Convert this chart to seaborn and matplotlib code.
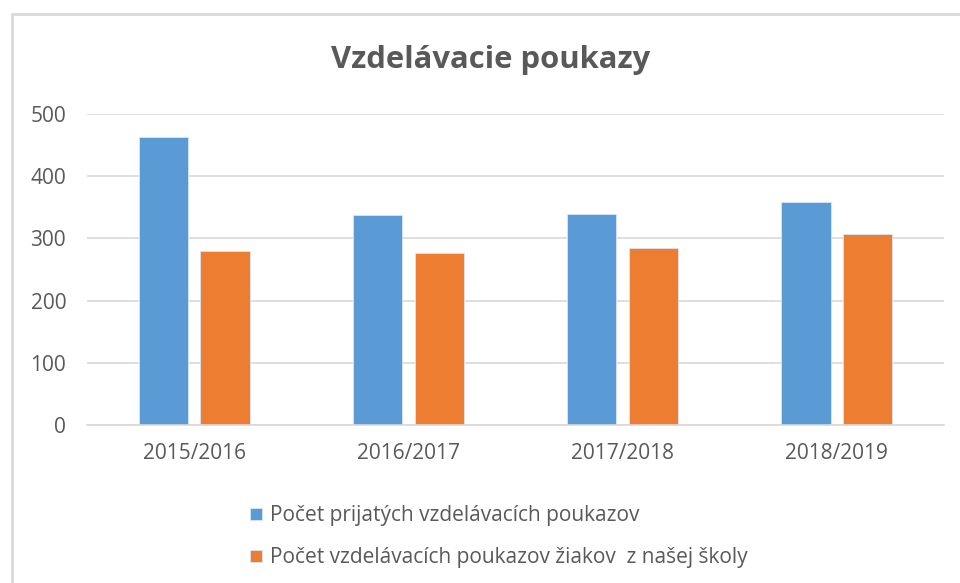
import matplotlib
matplotlib.use("Agg")
import matplotlib.pyplot as plt
import seaborn as sns
import pandas as pd
from matplotlib.patches import Rectangle

categories = ["2015/2016", "2016/2017", "2017/2018", "2018/2019"]
series_names = ["Počet prijatých vzdelávacích poukazov",
                "Počet vzdelávacích poukazov žiakov  z našej školy"]
accepted = [462, 337, 339, 359]
our_school = [279, 276, 284, 307]
y_ticks = [0, 100, 200, 300, 400, 500]
title = "Vzdelávacie poukazy"

df = pd.DataFrame({
    "rok": categories * 2,
    "séria": [series_names[0]] * 4 + [series_names[1]] * 4,
    "hodnota": accepted + our_school,
})

sns.set_theme(style="white")
plt.rcParams["font.family"] = ["Open Sans", "DejaVu Sans"]
gray = "#595959"

fig = plt.figure(figsize=(9.6, 5.83), dpi=100)
fig.patch.set_facecolor("white")
ax = fig.add_axes([87/960, 1-425.3/583, (944-87)/960, (425.3-113.7)/583])

sns.barplot(data=df, x="rok", y="hodnota", hue="séria",
            palette=["#5B9BD5", "#ED7D31"], saturation=1, width=0.575, gap=0.2,
            edgecolor="#d6e6f5", linewidth=0.6, ax=ax, legend=True)

ax.set_ylim(0, 500)
ax.set_xlim(-0.5, 3.5)
ax.set_yticks(y_ticks)
ax.yaxis.grid(True, color="#d9d9d9", linewidth=1.2)
ax.set_axisbelow(True)
for s in ["top", "right", "left"]:
    ax.spines[s].set_visible(False)
ax.spines["bottom"].set_color("#d9d9d9")
ax.spines["bottom"].set_linewidth(1.2)
ax.set_xlabel("")
ax.set_ylabel("")
ax.tick_params(axis="y", length=0, pad=15, labelsize=15, labelcolor=gray)
ax.tick_params(axis="x", length=0, pad=13, labelsize=15, labelcolor=gray)

handles, labels = ax.get_legend_handles_labels()
ax.get_legend().remove()
fig.legend(handles, labels, loc="upper left", bbox_to_anchor=(240/960, 1-495/583),
           frameon=False, ncol=1, fontsize=15, labelcolor=gray,
           handlelength=0.55, handleheight=0.55, handletextpad=0.4, labelspacing=1.0,
           borderpad=0)

fig.text(491/960, 1-60/583, title, ha="center", va="center",
         fontsize=22.3, fontweight="bold", color=gray)

fig.patches.append(Rectangle((11.5/960, -0.1), 1.2, 1-13.5/583+0.1,
                             transform=fig.transFigure, fill=False,
                             edgecolor="#d9d9d9", linewidth=2))

fig.savefig("out.png", dpi=100)
